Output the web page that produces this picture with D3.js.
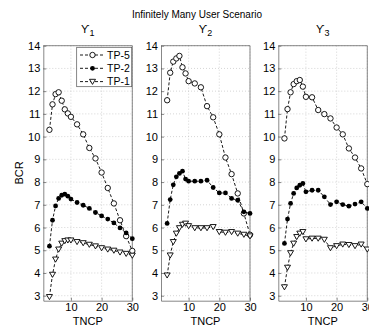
<!DOCTYPE html>
<html>
<head>
<meta charset="utf-8">
<script src="https://cdn.jsdelivr.net/npm/d3@7"></script>
<style>
body { margin:0; background:#fff; }
text { font-family: "Liberation Sans", Arial, sans-serif; }
</style>
</head>
<body>
<div id="chart"></div>
<script>
var svgWidth = 369, svgHeight = 329;

var tncp = [3,4,5,6,7,8,9,10,12,14,16,18,20,22,24,26,28,30];
var seriesNames = ["TP-5","TP-2","TP-1"];
var panelTitles = ["1","2","3"];

// panel 1
var p1tp5 = [10.3,11.42,11.87,11.95,11.58,11.2,11.02,10.87,10.54,10.1,9.5,9.04,8.42,7.74,7.06,6.32,5.62,4.97];
var p1tp2 = [5.18,6.32,6.95,7.28,7.42,7.47,7.38,7.25,7.1,6.98,6.84,6.66,6.51,6.37,6.2,5.98,5.76,5.51];
var p1tp1 = [2.95,3.93,4.6,5.04,5.3,5.41,5.44,5.44,5.37,5.32,5.25,5.18,5.1,5.04,4.99,4.91,4.85,4.77];
// panel 2
var p2tp5 = [11.6,12.81,13.3,13.44,13.55,13.05,12.78,12.44,12.34,12.17,11.34,10.85,10.1,9.08,8.35,7.5,6.62,5.68];
var p2tp2 = [6.18,7.23,7.88,8.23,8.38,8.48,8.13,8.04,8.04,8.04,8.08,7.76,7.52,7.52,7.28,7.2,6.69,6.62];
var p2tp1 = [3.9,4.78,5.37,5.74,5.98,6.13,6.18,6.07,5.98,5.98,5.98,6.03,5.81,5.78,5.81,5.74,5.69,5.62];
// panel 3
var p3tp5 = [9.92,11.21,11.95,12.31,12.44,12.49,12.2,11.75,11.73,11.17,10.99,10.8,10.4,10.1,9.48,9.08,8.6,7.91];
var p3tp2 = [5.3,6.37,7.06,7.5,7.74,7.86,7.94,7.57,7.64,7.64,7.35,7.01,7.13,7.01,6.94,7.03,7.13,6.84];
var p3tp1 = [3.38,4.24,4.88,5.3,5.59,5.74,5.81,5.49,5.52,5.52,5.47,5.1,5.19,5.26,5.24,5.19,5.26,5.04];

var panels = [[p1tp5,p1tp2,p1tp1],[p2tp5,p2tp2,p2tp1],[p3tp5,p3tp2,p3tp1]];
var yTicks = [3,4,5,6,7,8,9,10,11,12,13,14];
var xTicks = [10,20,30];

var svg = d3.select("#chart").append("svg").attr("width",svgWidth).attr("height",svgHeight);

var panelLeft = [43.3,161,278.3];
var pw = 89, plotTop = 45.7, plotBottom = 300.7;

svg.append("text").attr("x",197).attr("y",18).attr("text-anchor","middle").attr("font-size","10px").text("Infinitely Many User Scenario");

var yScale = d3.scaleLinear().domain([2.78,14]).range([plotBottom,plotTop]);

var markers = ["circle","dot","tri"];

function drawMarker(g, type, x, y) {
    if (type=="circle") {
        g.append("circle").attr("cx",x).attr("cy",y).attr("r",2.7).attr("fill","#fff").attr("stroke","#000").attr("stroke-width",0.9);
    } else if (type=="dot") {
        g.append("circle").attr("cx",x).attr("cy",y).attr("r",2.4).attr("fill","#000");
    } else {
        g.append("path").attr("d",`M${x-3},${y-2.3}L${x+3},${y-2.3}L${x},${y+2.8}Z`).attr("fill","#fff").attr("stroke","#000").attr("stroke-width",0.9);
    }
}

panels.forEach(function(pdata, pi){
    var x0 = panelLeft[pi];
    var xScale = d3.scaleLinear().domain([1,30]).range([x0,x0+pw]);
    var g = svg.append("g");

    // grid
    yTicks.forEach(function(t){
        g.append("line").attr("x1",x0).attr("x2",x0+pw).attr("y1",yScale(t)).attr("y2",yScale(t))
          .attr("stroke","#bbb").attr("stroke-width",0.6).attr("stroke-dasharray","1,2");
    });
    xTicks.forEach(function(t){
        g.append("line").attr("x1",xScale(t)).attr("x2",xScale(t)).attr("y1",plotTop).attr("y2",plotBottom)
          .attr("stroke","#bbb").attr("stroke-width",0.6).attr("stroke-dasharray","1,2");
    });

    // axes (ticks inside)
    var leftAxis = d3.axisLeft(yScale).tickValues(yTicks).tickSizeInner(-3).tickSizeOuter(0).tickPadding(3);
    var bottomAxis = d3.axisBottom(xScale).tickValues(xTicks).tickSizeInner(-3).tickSizeOuter(0).tickPadding(3);
    var ya = g.append("g").attr("transform",`translate(${x0},0)`).call(leftAxis);
    var xa = g.append("g").attr("transform",`translate(0,${plotBottom})`).call(bottomAxis);
    [ya,xa].forEach(function(a){
        a.selectAll("path,line").attr("stroke","#555").attr("stroke-width",0.7);
        a.selectAll("text").attr("font-size","11px").attr("fill","#000").attr("font-family","Liberation Sans, Arial, sans-serif");
    });
    // box top/right
    g.append("line").attr("x1",x0).attr("x2",x0+pw).attr("y1",plotTop).attr("y2",plotTop).attr("stroke","#555").attr("stroke-width",0.7);
    g.append("line").attr("x1",x0+pw).attr("x2",x0+pw).attr("y1",plotTop).attr("y2",plotBottom).attr("stroke","#555").attr("stroke-width",0.7);

    // title
    var tt = g.append("text").attr("x",x0+pw/2).attr("y",33).attr("text-anchor","middle")
        .attr("font-family","DejaVu Serif, serif").attr("font-size","11px");
    tt.append("tspan").text("\u03D2");
    tt.append("tspan").attr("dy",3).attr("font-size","9px").attr("font-family","Liberation Sans, Arial, sans-serif").text(panelTitles[pi]);

    // xlabel
    g.append("text").attr("x",x0+pw/2).attr("y",325).attr("text-anchor","middle").attr("font-size","11px").text("TNCP");

    // series
    var line = d3.line().x((d,i)=>xScale(tncp[i])).y(d=>yScale(d));
    pdata.forEach(function(vals, si){
        g.append("path").attr("d",line(vals)).attr("fill","none").attr("stroke","#000").attr("stroke-width",0.9).attr("stroke-dasharray","3,2");
        vals.forEach(function(v,i){ drawMarker(g, markers[si], xScale(tncp[i]), yScale(v)); });
    });
});

// y label
svg.append("text").attr("transform","translate(23,173) rotate(-90)").attr("text-anchor","middle").attr("font-size","11px").text("BCR");

// legend
var lg = svg.append("g");
lg.append("rect").attr("x",76.7).attr("y",47.3).attr("width",55).attr("height",39.4).attr("fill","#fff").attr("stroke","#555").attr("stroke-width",0.7);
seriesNames.forEach(function(name, i){
    var y = 55 + i*13.3;
    lg.append("line").attr("x1",80).attr("x2",105).attr("y1",y).attr("y2",y).attr("stroke","#000").attr("stroke-width",0.9).attr("stroke-dasharray","3,2");
    drawMarker(lg, markers[i], 92.5, y);
    lg.append("text").attr("x",107).attr("y",y+3.8).attr("font-size","10.5px").text(name);
});
</script>
</body>
</html>
